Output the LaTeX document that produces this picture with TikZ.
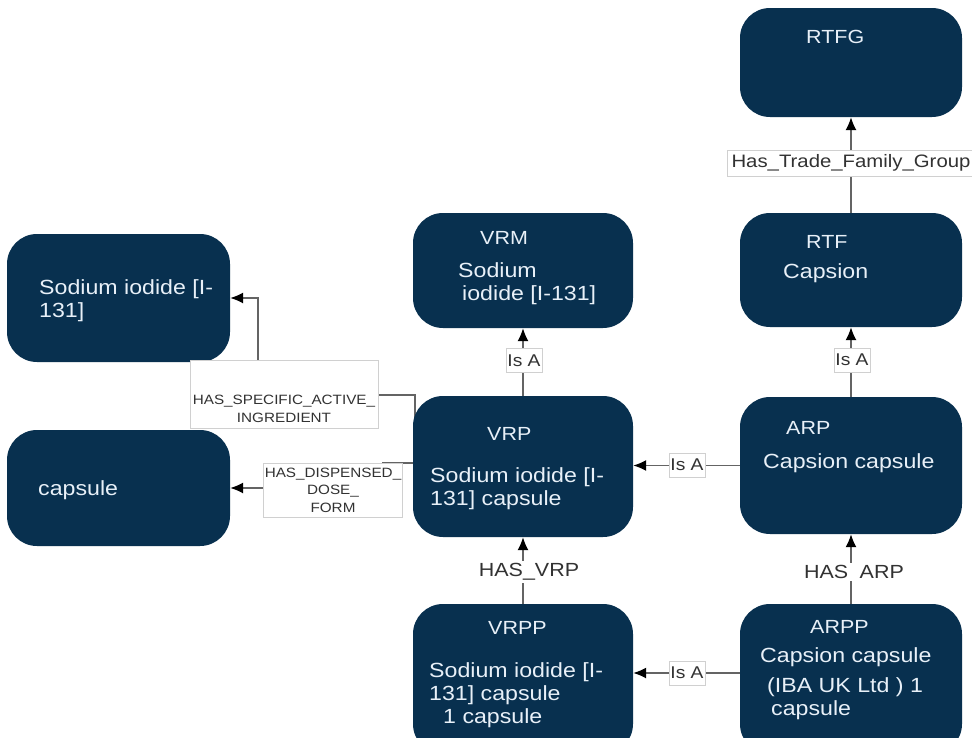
\documentclass[tikz,border=0pt]{standalone}
\usepackage{fontspec}
\setmainfont{Liberation Sans}[FakeStretch=1.13]
\usetikzlibrary{arrows.meta,backgrounds}
\definecolor{azulnodo}{RGB}{8,48,79}
\definecolor{textoclaro}{RGB}{232,240,248}
\definecolor{gristrazo}{RGB}{100,100,100}
\definecolor{grisborde}{RGB}{208,208,208}
\definecolor{grisletra}{RGB}{50,50,50}
\begin{document}
\begin{tikzpicture}[x=1pt,y=-1pt,
    caja/.style={fill=azulnodo, rounded corners=30pt, minimum width=222pt, inner sep=0pt},
    titulo/.style={text=textoclaro, anchor=west, inner sep=0pt, font=\fontsize{19}{22}\selectfont},
    cuerpo/.style={text=textoclaro, anchor=west, align=left, inner sep=0pt, font=\fontsize{20.5}{23}\selectfont},
    enlace/.style={draw=gristrazo, line width=1.4pt, -{Latex[length=13pt,width=11pt,black]}},
    etiqueta/.style={fill=white, draw=grisborde, line width=0.8pt, text=grisletra, inner sep=1.5pt},
    relacion/.style={fill=white, text=grisletra, inner sep=2pt, font=\fontsize{19}{22}\selectfont}]

    % Marco de la figura
    \path[use as bounding box, clip] (0,0) rectangle (972,737);

    % Cajas de los conceptos
    \node[caja, minimum height=109pt] (rtfg) at (851,62.5) {}; % grupo de familia comercial
    \node[caja, minimum height=114pt] (rtf) at (851,270) {};
    \node[caja, minimum height=115pt, minimum width=220pt] (vrm) at (523,270.5) {};
    \node[caja, minimum height=128pt, minimum width=223pt] (sodio) at (118.5,298) {};
    \node[caja, minimum height=116pt, minimum width=223pt] (capsula) at (118.5,488) {};
    \node[caja, minimum height=141pt, minimum width=220pt] (vrp) at (523,466.5) {};
    \node[caja, minimum height=137pt] (arp) at (851,465.5) {};
    \node[caja, minimum height=150pt, minimum width=220pt] (vrpp) at (523,679) {}; % cortada abajo
    \node[caja, minimum height=150pt] (arpp) at (851,679) {}; % cortada abajo

    % Textos dentro de las cajas
    \node[titulo] (rtfg-t) at (806,37) {RTFG};
    \node[titulo] (rtf-t) at (806,242) {RTF};
    \node[cuerpo] (rtf-c) at (783,273) {Capsion};
    \node[titulo] (vrm-t) at (480,238) {VRM};
    \node[cuerpo] (vrm-c) at (458,284) {Sodium\\\hspace*{4pt}iodide [I-131]};
    \node[cuerpo] (sodio-c) at (39,301) {Sodium iodide [I-\\131]};
    \node[cuerpo] (capsula-c) at (38,490) {capsule};
    \node[titulo] (vrp-t) at (487,434) {VRP};
    \node[cuerpo] (vrp-c) at (430,489) {Sodium iodide [I-\\131] capsule};
    \node[titulo] (arp-t) at (786,428) {ARP};
    \node[cuerpo] (arp-c) at (763,463) {Capsion capsule};
    \node[titulo] (vrpp-t) at (488,628) {VRPP};
    \node[cuerpo] (vrpp-c) at (429,695) {Sodium iodide [I-\\131] capsule\\\hspace*{14pt}1 capsule};
    \node[titulo] (arpp-t) at (810,627) {ARPP};
    \node[cuerpo] (arpp-c) at (760,684) {Capsion capsule\\[7pt]\hspace*{7pt}(IBA UK Ltd ) 1\\\hspace*{11pt}capsule};

    % Puntos de quiebre
    \coordinate (codo) at (258,395);

    % Conectores (debajo de todo)
    \begin{scope}[on background layer]
        \fill[white] (0,0) rectangle (972,737); % fondo blanco
        \draw[enlace] (rtf.north) -- (rtfg.south);
        \draw[enlace] (vrp.north) -- (vrm.south);
        \draw[enlace] (arp.north) -- (rtf.south);
        \draw[enlace] (arp.west) -- (arp.west -| vrp.east);
        \draw[enlace] ([yshift=6pt]arpp.west) -- ([yshift=6pt]vrpp.east);
        \draw[enlace] (vrpp.north) -- (vrp.south);
        \draw[enlace] (arpp.north) -- (arp.south);
        \draw[enlace] ([xshift=2pt,yshift=-24pt]vrp.north west) |- (codo) |- (sodio.east);
        \draw[enlace] ([yshift=3.5pt]vrp.west) -- ++(-30,0) |- (capsula.east);
    \end{scope}

    % Etiquetas de las relaciones
    \node[etiqueta, font=\fontsize{18}{21}\selectfont, minimum height=26pt, inner xsep=4pt] (l-grupo) at (851,163) {Has\_Trade\_Family\_Group};
    \node[etiqueta, font=\fontsize{17}{20}\selectfont, minimum height=24pt] (l-isa1) at (524,360.5) {Is A};
    \node[etiqueta, font=\fontsize{17}{20}\selectfont, minimum height=24pt] (l-isa2) at (852,360) {Is A};
    \node[etiqueta, font=\fontsize{17}{20}\selectfont, minimum height=24pt] (l-isa3) at (687,465) {Is A};
    \node[etiqueta, font=\fontsize{17}{20}\selectfont, minimum height=24pt] (l-isa4) at (687,673) {Is A};
    \node[etiqueta, minimum width=188pt, minimum height=68pt] (l-activo) at (284,394) {};
    \node[text=grisletra, align=center, inner sep=0pt, font=\fontsize{13.5}{18}\selectfont] (l-activo-t) at (284,409) {HAS\_SPECIFIC\_ACTIVE\_\\INGREDIENT};
    \node[etiqueta, align=center, minimum width=138pt, minimum height=54pt, font=\fontsize{13.5}{17.5}\selectfont] (l-dosis) at (333,490) {HAS\_DISPENSED\_\\DOSE\_\\FORM};
    \node[relacion] (l-vrp) at (529,572) {HAS\_VRP};
    \node[relacion] (l-arp) at (854,572) {HAS\hspace{0.6em}ARP};
\end{tikzpicture}
\end{document}
